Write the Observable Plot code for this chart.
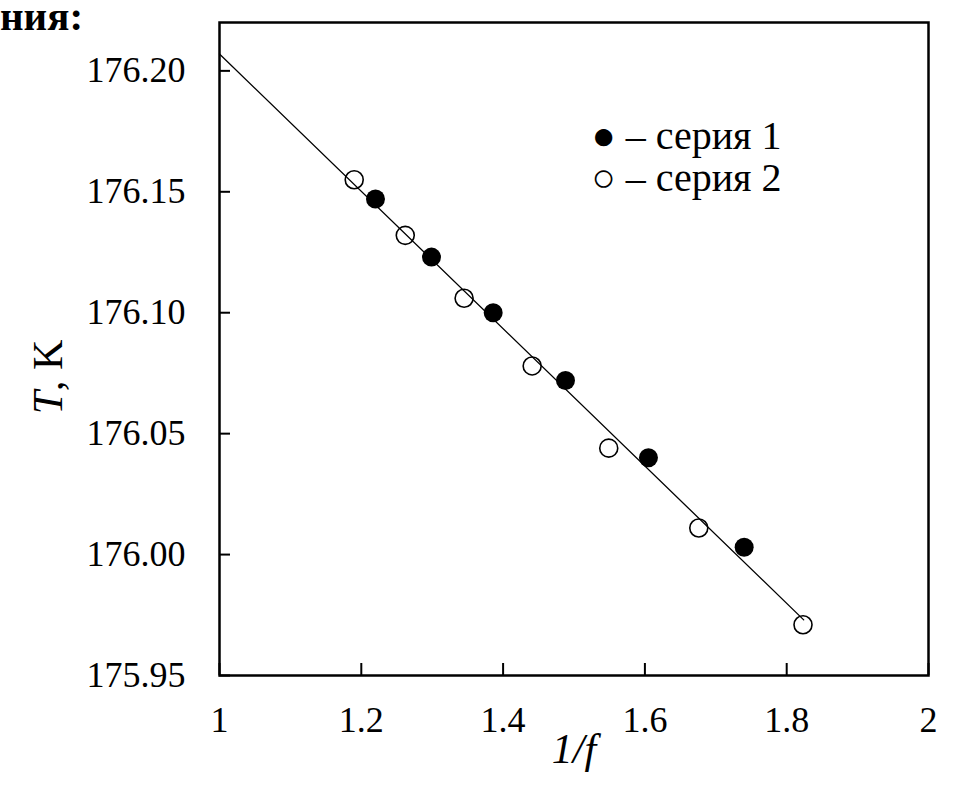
<!DOCTYPE html>
<html>
<head>
<meta charset="utf-8">
<script src="https://cdn.jsdelivr.net/npm/d3@7"></script>
<script src="https://cdn.jsdelivr.net/npm/@observablehq/plot@0.6"></script>
<style>
  body { margin: 0; background: white; }
  #wrap { position: relative; width: 959px; height: 790px; overflow: hidden; }
  #title { position: absolute; left: 0; top: 0; font-family: "Liberation Serif", "Times New Roman", serif; font-weight: bold; font-size: 41px; line-height: 0.8; white-space: nowrap; }
</style>
</head>
<body>
<div id="wrap"><div id="title">ния:</div></div>
<script>
// Series 1 (filled circles)
const s1X = [1.220, 1.299, 1.386, 1.488, 1.605, 1.740];
const s1Y = [176.147, 176.123, 176.100, 176.072, 176.040, 176.003];
// Series 2 (open circles)
const s2X = [1.190, 1.262, 1.345, 1.441, 1.549, 1.676, 1.823];
const s2Y = [176.155, 176.132, 176.106, 176.078, 176.044, 176.011, 175.971];
// Fitted line end points
const fitX = [1.000, 1.824];
const fitY = [176.207, 175.973];
// Ticks
const xTicks = [1, 1.2, 1.4, 1.6, 1.8, 2];
const yTicks = [175.95, 176.00, 176.05, 176.10, 176.15, 176.20];
// Labels
const xLabel = "1/f";
const yLabel = "T, K";
const legendLines = ["● – серия 1", "○ – серия 2"];

const s1 = s1X.map((x, i) => ({x, y: s1Y[i]}));
const s2 = s2X.map((x, i) => ({x, y: s2Y[i]}));
const fit = fitX.map((x, i) => ({x, y: fitY[i]}));

const font = "'Liberation Serif', 'Times New Roman', serif";

const chart = Plot.plot({
  width: 959,
  height: 790,
  marginLeft: 219,
  marginRight: 31,
  marginTop: 22,
  marginBottom: 115,
  style: {fontFamily: font, fontSize: "36px", color: "black", background: "white"},
  x: {domain: [1, 2]},
  y: {domain: [175.95, 176.22]},
  marks: [
    Plot.line(fit, {x: "x", y: "y", stroke: "black", strokeWidth: 1.3}),
    Plot.dot(s2, {x: "x", y: "y", r: 9, stroke: "black", strokeWidth: 1.6, fill: "none"}),
    Plot.dot(s1, {x: "x", y: "y", r: 9.5, fill: "black", stroke: "none"}),
    // inward ticks
    Plot.axisX({ticks: xTicks, tickSize: -12, strokeWidth: 2, tickFormat: () => "", label: null}),
    Plot.axisY({ticks: yTicks, tickSize: -11, strokeWidth: 2, tickFormat: () => "", label: null}),
    // tick labels
    Plot.axisX({ticks: xTicks, tickSize: 0, tickPadding: 31, fontSize: 36, tickFormat: d => String(+d.toFixed(1)), label: null}),
    Plot.axisY({ticks: yTicks, tickSize: 0, tickPadding: 34, fontSize: 36, tickFormat: d3.format(".2f"), label: null}),
    Plot.frame({stroke: "black", strokeWidth: 2.5}),
    Plot.text([xLabel], {frameAnchor: "bottom", dy: 87, fontSize: 42, fontStyle: "italic"}),
    Plot.text([yLabel], {frameAnchor: "left", textAnchor: "middle", dx: -171, dy: 28, rotate: -90, fontSize: 42}),
    Plot.text([legendLines.join("\n")], {frameAnchor: "top-left", textAnchor: "start", lineAnchor: "top", dx: 372, dy: 97, lineHeight: 1.05, fontSize: 40})
  ]
});

// italic T in the y label
d3.select(chart).selectAll("text").filter(function() { return this.textContent === yLabel; }).each(function() {
  const t = d3.select(this);
  t.text(null);
  t.append("tspan").attr("font-style", "italic").text("T");
  t.append("tspan").text(", K");
});

document.getElementById("wrap").appendChild(chart);
</script>
</body>
</html>
